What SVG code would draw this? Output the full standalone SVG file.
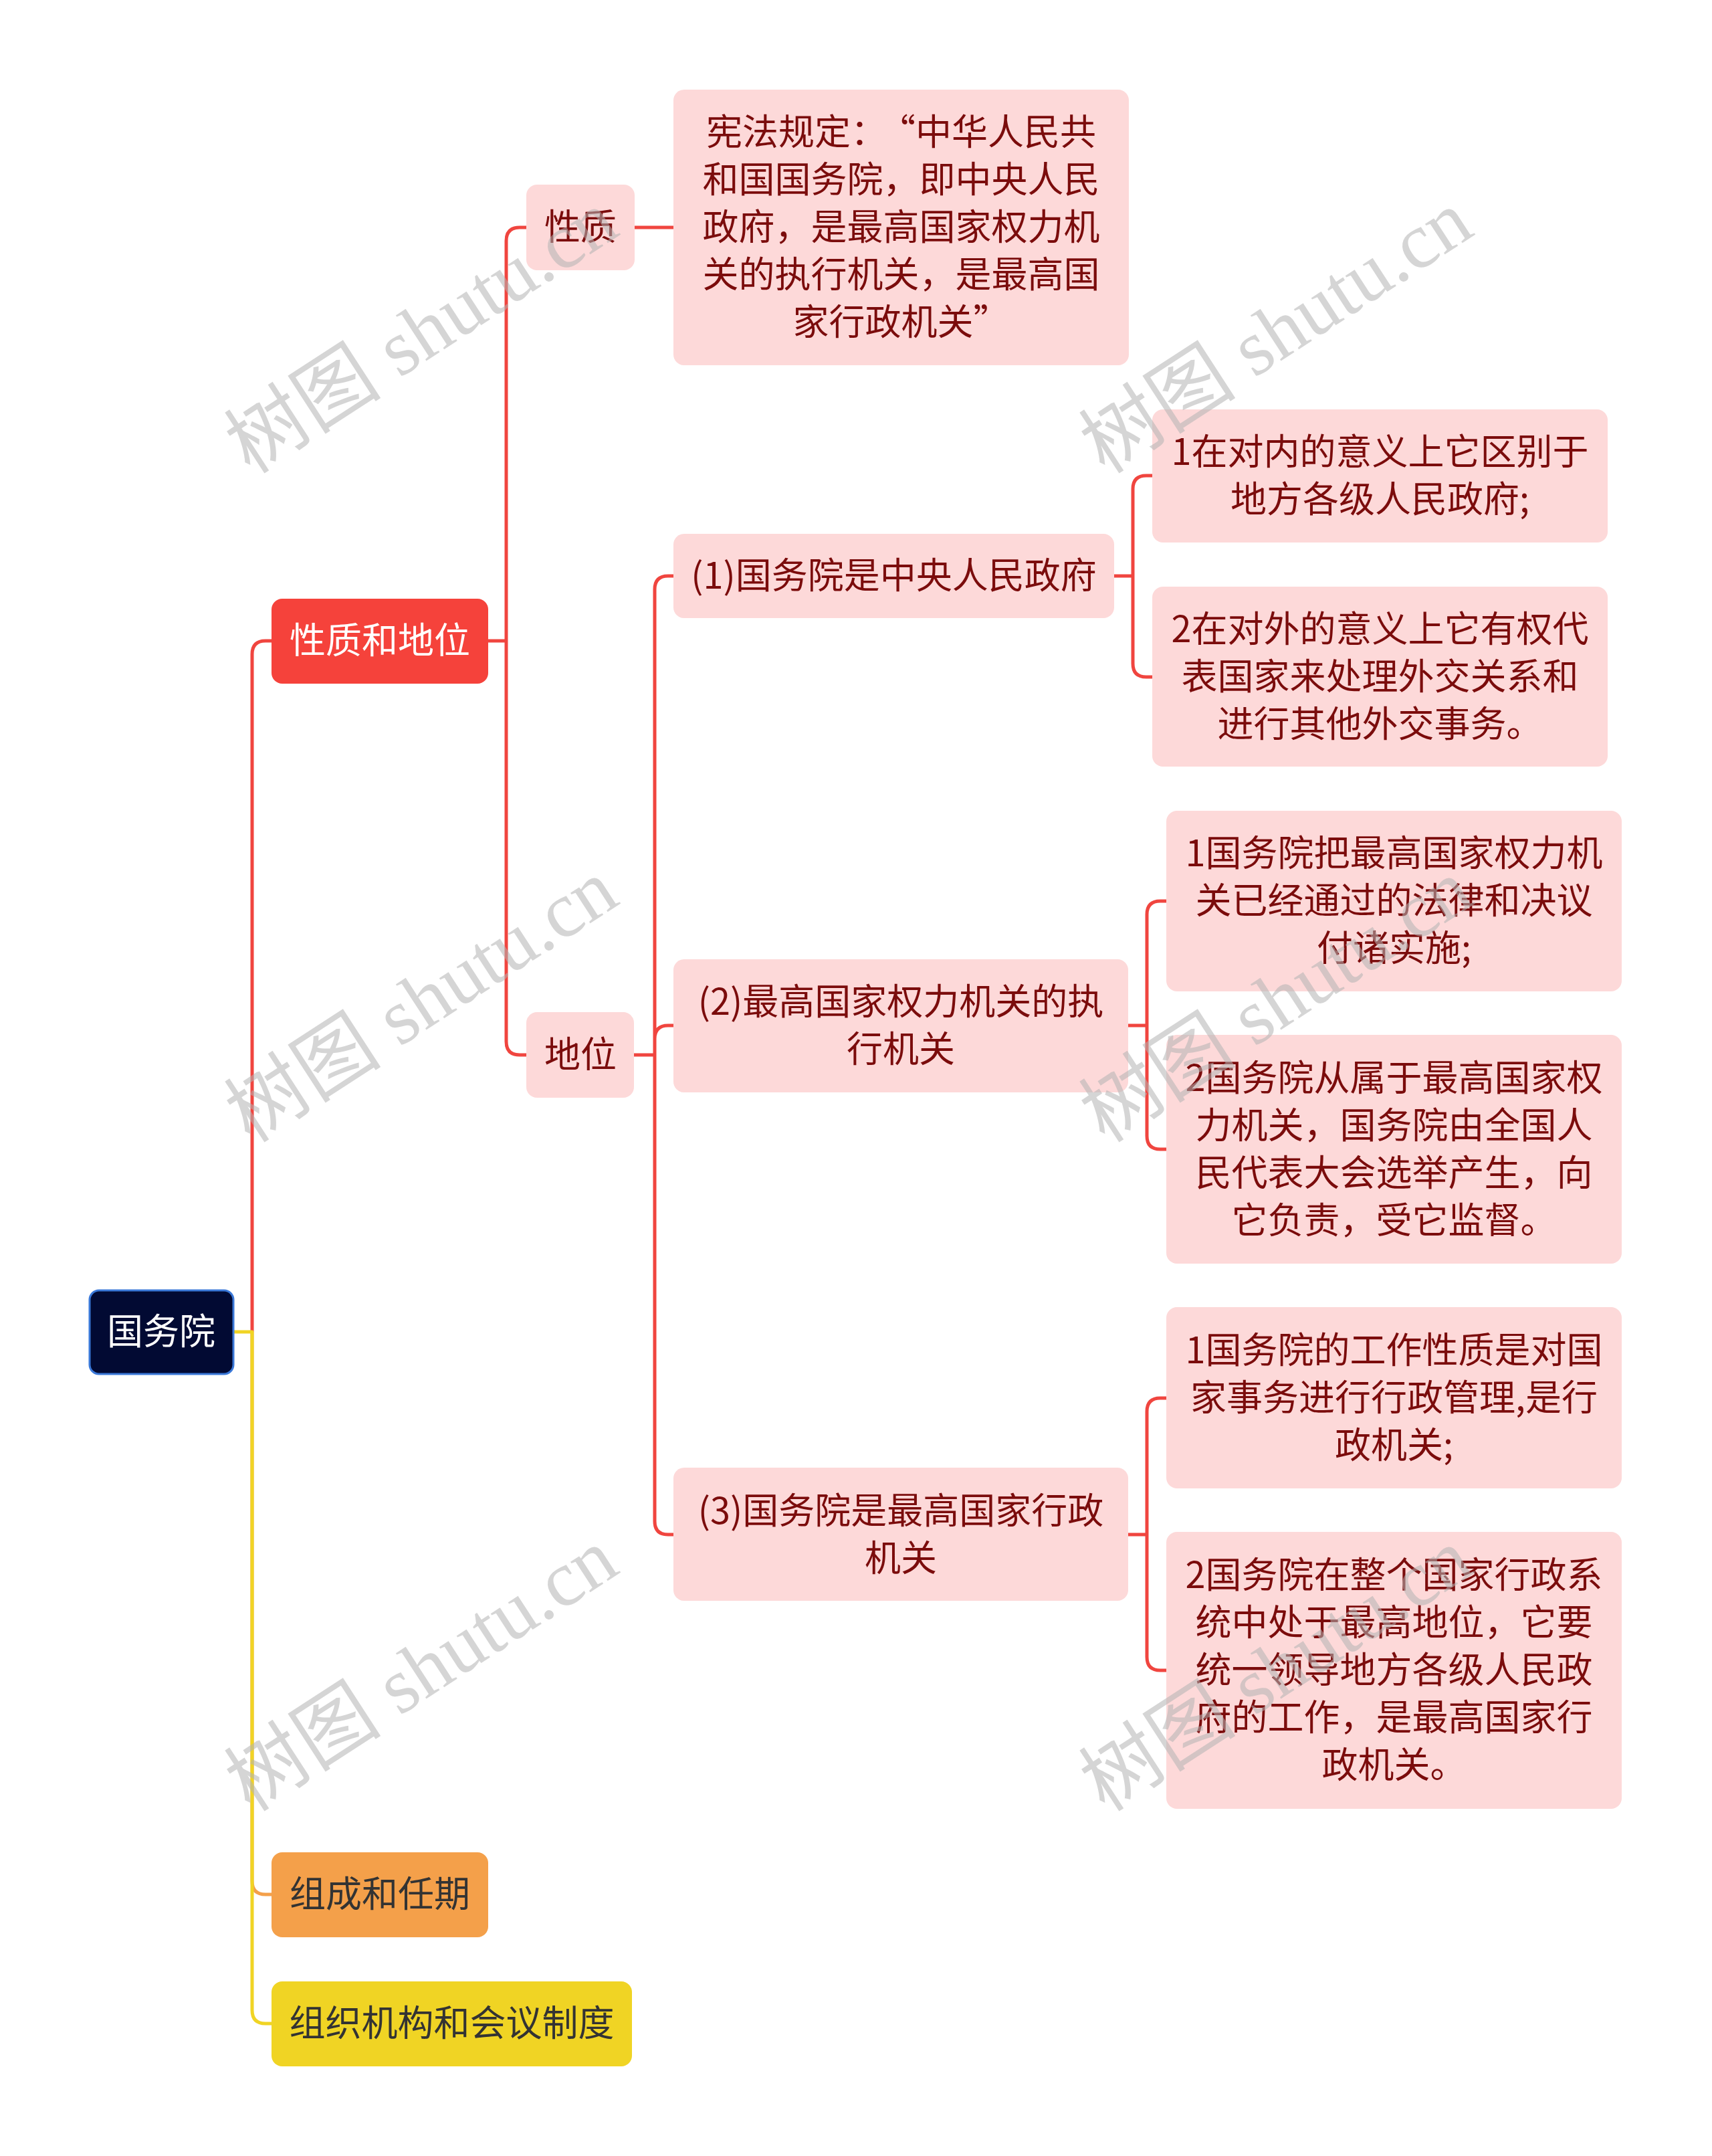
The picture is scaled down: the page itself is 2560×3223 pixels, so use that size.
<svg xmlns="http://www.w3.org/2000/svg" width="2560" height="3223" viewBox="0 0 2560 3223">
<style>
.t{font-family:"Noto Sans CJK SC","Noto Sans",sans-serif;font-size:54px;text-anchor:middle}
.pk rect{fill:#fdd9d9}
.pk text{fill:#7b0c0c}
.ln{fill:none;stroke-width:5;stroke-linejoin:round}
.r{stroke:#f0453f}
.wm{font-family:"Liberation Serif","Noto Sans CJK SC",serif;font-size:118px;fill:#b4b4b4;opacity:0.55;text-anchor:middle}
</style>
<rect width="2560" height="3223" fill="#ffffff"/>
<g id="connectors">
<path class="ln r" d="M377,1991 V978 Q377,958 397,958 H406"/>
<path class="ln" stroke="#f4a04a" d="M377,1991 V2812 Q377,2832 397,2832 H406"/>
<path class="ln" stroke="#f0d424" d="M349,1991 H377 V3005 Q377,3025 397,3025 H406"/>
<path class="ln r" d="M730,958 H757 M757,958 V360 Q757,340 777,340 H787 M757,958 V1557 Q757,1577 777,1577 H787"/>
<path class="ln r" d="M949,340 H1007"/>
<path class="ln r" d="M948,1577 H979 M979,1577 V881 Q979,861 999,861 H1007 M979,1577 V1553 Q979,1533 999,1533 H1007 M979,1577 V2274 Q979,2294 999,2294 H1007"/>
<path class="ln r" d="M1666,861 H1694 M1694,861 V731 Q1694,711 1714,711 H1723 M1694,861 V992 Q1694,1012 1714,1012 H1723"/>
<path class="ln r" d="M1687,1533 H1715 M1715,1533 V1367 Q1715,1347 1735,1347 H1744 M1715,1533 V1698 Q1715,1718 1735,1718 H1744"/>
<path class="ln r" d="M1687,2294 H1715 M1715,2294 V2110 Q1715,2090 1735,2090 H1744 M1715,2294 V2477 Q1715,2497 1735,2497 H1744"/>
</g>
<g id="root">
<rect x="134" y="1929" width="215" height="125" rx="14" fill="#020a33" stroke="#3a78d8" stroke-width="3"/>
<text class="t" x="241" y="2010" fill="#ffffff">国务院</text>
</g>
<g id="n-xzdw">
<rect x="406" y="895" width="324" height="127" rx="16" fill="#f5423b"/>
<text class="t" x="568" y="977" fill="#ffffff">性质和地位</text>
</g>
<g id="n-zcrq">
<rect x="406" y="2769" width="324" height="127" rx="16" fill="#f4a04a"/>
<text class="t" x="568" y="2851" fill="#333333">组成和任期</text>
</g>
<g id="n-zzjg">
<rect x="406" y="2962" width="539" height="127" rx="16" fill="#f0d424"/>
<text class="t" x="675.5" y="3044" fill="#333333">组织机构和会议制度</text>
</g>
<g id="n-xz" class="pk">
<rect x="787" y="276" width="162" height="128" rx="16"/>
<text class="t" x="868" y="359">性质</text>
</g>
<g id="n-dw" class="pk">
<rect x="787" y="1513" width="161" height="128" rx="16"/>
<text class="t" x="868" y="1596">地位</text>
</g>
<g id="n-xf" class="pk">
<rect x="1007" y="134" width="681" height="412" rx="16"/>
<text class="t" x="1347.5" y="217">宪法规定：<tspan dx="16">“</tspan>中华人民共</text>
<text class="t" x="1347.5" y="288">和国国务院，即中央人民</text>
<text class="t" x="1347.5" y="359">政府，是最高国家权力机</text>
<text class="t" x="1347.5" y="430">关的执行机关，是最高国</text>
<text class="t" x="1347.5" y="501">家行政机关”</text>
</g>
<g id="n-1" class="pk">
<rect x="1007" y="798" width="659" height="126" rx="16"/>
<text class="t" x="1336.5" y="880">(1)国务院是中央人民政府</text>
</g>
<g id="n-1a" class="pk">
<rect x="1723" y="612" width="681" height="199" rx="16"/>
<text class="t" x="2063.5" y="695">1在对内的意义上它区别于</text>
<text class="t" x="2063.5" y="766">地方各级人民政府;</text>
</g>
<g id="n-1b" class="pk">
<rect x="1723" y="877" width="681" height="269" rx="16"/>
<text class="t" x="2063.5" y="960">2在对外的意义上它有权代</text>
<text class="t" x="2063.5" y="1031">表国家来处理外交关系和</text>
<text class="t" x="2063.5" y="1102">进行其他外交事务。</text>
</g>
<g id="n-2" class="pk">
<rect x="1007" y="1434" width="680" height="199" rx="16"/>
<text class="t" x="1347" y="1517">(2)最高国家权力机关的执</text>
<text class="t" x="1347" y="1588">行机关</text>
</g>
<g id="n-2a" class="pk">
<rect x="1744" y="1212" width="681" height="270" rx="16"/>
<text class="t" x="2084.5" y="1295">1国务院把最高国家权力机</text>
<text class="t" x="2084.5" y="1366">关已经通过的法律和决议</text>
<text class="t" x="2084.5" y="1437">付诸实施;</text>
</g>
<g id="n-2b" class="pk">
<rect x="1744" y="1547" width="681" height="342" rx="16"/>
<text class="t" x="2084.5" y="1631">2国务院从属于最高国家权</text>
<text class="t" x="2084.5" y="1702">力机关，国务院由全国人</text>
<text class="t" x="2084.5" y="1773">民代表大会选举产生，向</text>
<text class="t" x="2084.5" y="1844">它负责，受它监督。</text>
</g>
<g id="n-3" class="pk">
<rect x="1007" y="2194" width="680" height="199" rx="16"/>
<text class="t" x="1347" y="2278">(3)国务院是最高国家行政</text>
<text class="t" x="1347" y="2349">机关</text>
</g>
<g id="n-3a" class="pk">
<rect x="1744" y="1954" width="681" height="271" rx="16"/>
<text class="t" x="2084.5" y="2038">1国务院的工作性质是对国</text>
<text class="t" x="2084.5" y="2109">家事务进行行政管理,是行</text>
<text class="t" x="2084.5" y="2180">政机关;</text>
</g>
<g id="n-3b" class="pk">
<rect x="1744" y="2290" width="681" height="414" rx="16"/>
<text class="t" x="2084.5" y="2374">2国务院在整个国家行政系</text>
<text class="t" x="2084.5" y="2445">统中处于最高地位，它要</text>
<text class="t" x="2084.5" y="2516">统一领导地方各级人民政</text>
<text class="t" x="2084.5" y="2587">府的工作，是最高国家行</text>
<text class="t" x="2084.5" y="2658">政机关。</text>
</g>
<g id="watermarks">
<text class="wm" transform="translate(652,530) rotate(-33)">树图 shutu.cn</text>
<text class="wm" transform="translate(1930,530) rotate(-33)">树图 shutu.cn</text>
<text class="wm" transform="translate(652,1530) rotate(-33)">树图 shutu.cn</text>
<text class="wm" transform="translate(1930,1530) rotate(-33)">树图 shutu.cn</text>
<text class="wm" transform="translate(652,2530) rotate(-33)">树图 shutu.cn</text>
<text class="wm" transform="translate(1930,2530) rotate(-33)">树图 shutu.cn</text>
</g>
</svg>
